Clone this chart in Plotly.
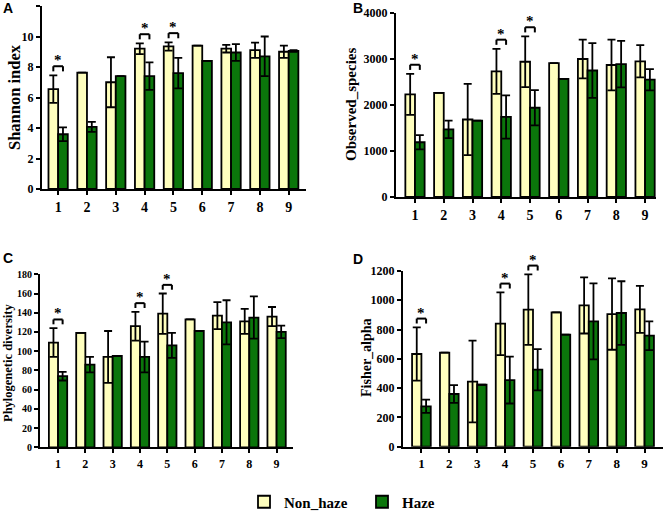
import plotly.graph_objects as go

W, H = 666, 511

groups = [1, 2, 3, 4, 5, 6, 7, 8, 9]
series_names = ["Non_haze", "Haze"]
sig_groups = [1, 4, 5]

# Panel A: Shannon index
shannon_nh = [6.55, 7.63, 7.0, 9.2, 9.35, 9.4, 9.2, 9.1, 9.0]
shannon_nh_sd = [0.9, 0, 1.64, 0.35, 0.27, 0, 0.25, 0.5, 0.4]
shannon_h = [3.59, 4.07, 7.4, 7.4, 7.6, 8.4, 8.95, 8.7, 9.05]
shannon_h_sd = [0.45, 0.33, 0, 0.9, 1.0, 0, 0.55, 1.3, 0.05]

# Panel B: Observed species
obs_nh = [2230, 2265, 1685, 2730, 2940, 2910, 3000, 2870, 2950]
obs_nh_sd = [445, 0, 775, 490, 550, 0, 420, 550, 350]
obs_h = [1190, 1470, 1660, 1740, 1940, 2570, 2750, 2890, 2550]
obs_h_sd = [155, 190, 0, 470, 385, 0, 595, 505, 230]

# Panel C: Phylogenetic diversity
pd_nh = [109, 119, 94, 126, 139, 133, 137, 131, 136]
pd_nh_sd = [15, 0, 27, 15, 21, 0, 14, 13, 10]
pd_h = [74, 86, 95, 94, 106, 121, 130, 135, 120]
pd_h_sd = [4.5, 8, 0, 16, 13, 0, 23, 22, 6.5]

# Panel D: Fisher alpha
fa_nh = [633, 642, 445, 840, 936, 918, 965, 906, 938]
fa_nh_sd = [182, 0, 279, 214, 241, 0, 192, 244, 160]
fa_h = [276, 360, 423, 455, 526, 765, 856, 913, 758]
fa_h_sd = [45, 61, 0, 160, 141, 0, 260, 217, 98]

NH_COLOR = "#FFFFBE"
H_COLOR = "#0B760B"
SERIF = "Liberation Serif"
SANS = "Liberation Sans"

BARGAP = 0.33

panels = [
    dict(letter="A", title="Shannon index", nh=shannon_nh, nhsd=shannon_nh_sd, h=shannon_h, hsd=shannon_h_sd,
         ymax=12, dtick=2, box=(42, 306, 6, 189), xr=(0.44, 9.6), ytf=12, xtf=14,
         tpos=(15, 97), tsize=16.5, lpos=(8, 8)),
    dict(letter="B", title="Observed_species", nh=obs_nh, nhsd=obs_nh_sd, h=obs_h, hsd=obs_h_sd,
         ymax=4000, dtick=1000, box=(396, 656, 13, 197), xr=(0.34, 9.38), ytf=12, xtf=14,
         tpos=(351, 104), tsize=15, lpos=(358, 8)),
    dict(letter="C", title="Phylogenetic diversity", nh=pd_nh, nhsd=pd_nh_sd, h=pd_h, hsd=pd_h_sd,
         ymax=180, dtick=20, box=(40, 293, 274.3, 447.3), xr=(0.34, 9.6), ytf=10, xtf=12,
         tpos=(8, 363), tsize=12.5, lpos=(8, 258)),
    dict(letter="D", title="Fisher_alpha", nh=fa_nh, nhsd=fa_nh_sd, h=fa_h, hsd=fa_h_sd,
         ymax=1200, dtick=200, box=(403, 663, 271, 446.7), xr=(0.34, 9.66), ytf=12, xtf=13,
         tpos=(366, 358), tsize=14, lpos=(358, 259)),
]

fig = go.Figure()
shapes = []
annotations = []
layout_axes = {}

for k, p in enumerate(panels):
    n = k + 1
    xa = "x" if n == 1 else f"x{n}"
    ya = "y" if n == 1 else f"y{n}"
    for name, vals, sds, col in [(series_names[0], p["nh"], p["nhsd"], NH_COLOR),
                                 (series_names[1], p["h"], p["hsd"], H_COLOR)]:
        fig.add_trace(go.Bar(
            x=groups, y=vals, name=name, xaxis=xa, yaxis=ya,
            marker=dict(color=col, line=dict(color="black", width=1.8)),
            error_y=dict(type="data", array=sds, visible=True, color="black", thickness=1.8, width=4),
            showlegend=(n == 1), legendgroup=name,
            offsetgroup=name,
        ))
    x0, x1, y0, y1 = p["box"]
    xkey = "xaxis" if n == 1 else f"xaxis{n}"
    ykey = "yaxis" if n == 1 else f"yaxis{n}"
    layout_axes[xkey] = dict(
        domain=[x0 / W, x1 / W], range=list(p["xr"]), anchor=ya,
        tickvals=groups, ticktext=[str(g) for g in groups],
        showline=True, linecolor="black", linewidth=2, ticks="outside", ticklen=4,
        tickwidth=2, tickcolor="black", showgrid=False, zeroline=False,
        tickfont=dict(family=SERIF, size=p["xtf"], color="black", weight="bold"),
    )
    layout_axes[ykey] = dict(
        domain=[1 - y1 / H, 1 - y0 / H], range=[0, p["ymax"]], anchor=xa,
        dtick=p["dtick"], showline=True, linecolor="black", linewidth=2,
        ticks="outside", ticklen=4, tickwidth=2, tickcolor="black",
        showgrid=False, zeroline=False,
        tickfont=dict(family=SERIF, size=p["ytf"], color="black", weight="bold"),
    )
    # significance brackets (y in axis-domain fraction so they may sit above the axis top)
    half = (1 - BARGAP) / 4
    for g in sig_groups:
        i = groups.index(g)
        top = max(p["nh"][i] + p["nhsd"][i], p["h"][i] + p["hsd"][i])
        yb = (top + 0.05 * p["ymax"]) / p["ymax"]
        tick = 0.028
        xl, xr_ = g - half, g + half
        yref_d = f"{ya} domain"
        for (ax0, ay0, ax1, ay1) in [(xl, yb, xr_, yb), (xl, yb, xl, yb - tick), (xr_, yb, xr_, yb - tick)]:
            shapes.append(dict(type="line", xref=xa, yref=yref_d, x0=ax0, y0=ay0, x1=ax1, y1=ay1,
                               line=dict(color="black", width=2)))
        annotations.append(dict(x=g, y=yb, xref=xa, yref=yref_d, text="*", showarrow=False,
                                yanchor="bottom", yshift=-4,
                                font=dict(family=SERIF, size=15, color="black", weight="bold")))
    # axis title
    annotations.append(dict(x=p["tpos"][0] / W, y=1 - p["tpos"][1] / H, xref="paper", yref="paper",
                            text=p["title"], textangle=-90, showarrow=False,
                            xanchor="center", yanchor="middle",
                            font=dict(family=SERIF, size=p["tsize"], color="black", weight="bold")))
    # panel letter
    annotations.append(dict(x=p["lpos"][0] / W, y=1 - p["lpos"][1] / H, xref="paper", yref="paper",
                            text=p["letter"], showarrow=False, xanchor="center", yanchor="middle",
                            font=dict(family=SANS, size=14, color="black", weight="bold")))

fig.update_layout(
    width=W, height=H, margin=dict(l=0, r=0, t=0, b=0, autoexpand=False),
    paper_bgcolor="white", plot_bgcolor="white",
    barmode="group", bargap=BARGAP, bargroupgap=0,
    shapes=shapes, annotations=annotations,
    legend=dict(orientation="h", x=244 / W, y=1 - 502 / H, xanchor="left", yanchor="middle",
                font=dict(family=SERIF, size=15, color="black", weight="bold"),
                entrywidth=73, entrywidthmode="pixels", bgcolor="rgba(0,0,0,0)"),
    **layout_axes,
)

fig.write_html("out.html", config={"displayModeBar": False},
               post_script="document.body.style.margin='0px';document.body.style.padding='0px';")
